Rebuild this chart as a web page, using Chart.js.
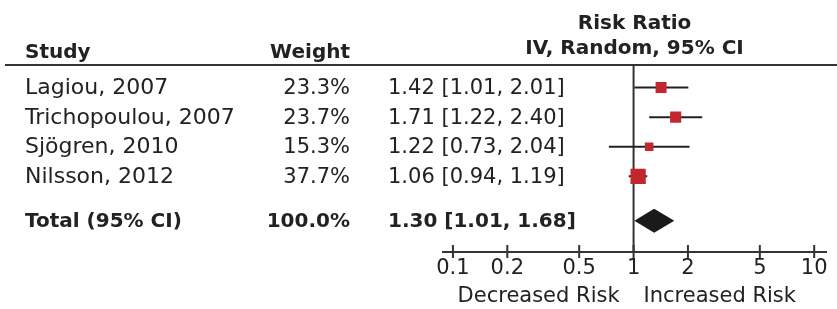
<!DOCTYPE html>
<html>
<head>
<meta charset="utf-8">
<script src="https://cdn.jsdelivr.net/npm/chart.js@4/dist/chart.umd.min.js"></script>
<style>
  html, body { margin: 0; padding: 0; background: #fff; }
  #wrap { width: 837px; height: 309px; position: relative; }
</style>
</head>
<body>
<div id="wrap"><canvas id="forest"></canvas></div>
<script>
// ===============================
// Data
// ===============================
const studies = ["Lagiou, 2007", "Trichopoulou, 2007", "Sjögren, 2010", "Nilsson, 2012"];
const weights = [23.3, 23.7, 15.3, 37.7];
const riskRatios = [1.42, 1.71, 1.22, 1.06];
const ciLower = [1.01, 1.22, 0.73, 0.94];
const ciUpper = [2.01, 2.40, 2.04, 1.19];

const totalLabel = "Total (95% CI)";
const totalWeight = 100.0;
const totalRatio = 1.30;
const totalLower = 1.01;
const totalUpper = 1.68;

const xTicks = [0.1, 0.2, 0.5, 1, 2, 5, 10];
const xTickLabels = ["0.1", "0.2", "0.5", "1", "2", "5", "10"];

// ===============================
// Look
// ===============================
const INK = "#222";
const RED = "#c1272d";
const FONT = "DejaVu Sans";

Chart.defaults.font.family = FONT;
Chart.defaults.color = INK;

const rowOf = i => i + 1;
const totalRow = studies.length + 1.5;
const fmt = v => v.toFixed(2);

// ===============================
// Table text, rules, ticks and the pooled diamond
// ===============================
const forestPlugin = {
  id: "forestPlugin",
  beforeDatasetsDraw(chart) {
    const { ctx, chartArea, scales: { x } } = chart;
    ctx.save();
    ctx.strokeStyle = "#333";

    // header rule
    ctx.lineWidth = 2;
    ctx.beginPath();
    ctx.moveTo(5, chartArea.top - 1);
    ctx.lineTo(chart.width, chartArea.top - 1);
    ctx.stroke();

    // line of no effect
    const x1 = x.getPixelForValue(1);
    ctx.lineWidth = 2;
    ctx.beginPath();
    ctx.moveTo(x1, chartArea.top);
    ctx.lineTo(x1, chartArea.bottom);
    ctx.stroke();
    ctx.restore();
  },
  afterDatasetsDraw(chart) {
    const { ctx, scales: { x, y } } = chart;
    const cy = y.getPixelForValue(totalRow);
    ctx.save();
    ctx.fillStyle = "#1a1a1a";
    ctx.beginPath();
    ctx.moveTo(x.getPixelForValue(totalLower), cy);
    ctx.lineTo(x.getPixelForValue(totalRatio), cy - 12);
    ctx.lineTo(x.getPixelForValue(totalUpper), cy);
    ctx.lineTo(x.getPixelForValue(totalRatio), cy + 12);
    ctx.closePath();
    ctx.fill();
    ctx.restore();
  },
  afterDraw(chart) {
    const { ctx, chartArea, scales: { x, y } } = chart;
    const mid = (chartArea.left + chartArea.right) / 2;
    ctx.save();
    ctx.fillStyle = INK;

    // headers
    ctx.font = `bold 20px "${FONT}"`;
    ctx.textBaseline = "alphabetic";
    ctx.textAlign = "center";
    ctx.fillText("Risk Ratio", mid, 29);
    ctx.fillText("IV, Random, 95% CI", mid, 54);
    ctx.textAlign = "left";
    ctx.fillText("Study", 25, 58);
    ctx.textAlign = "right";
    ctx.fillText("Weight", 350, 58);

    // study rows
    ctx.textBaseline = "middle";
    studies.forEach((s, i) => {
      const py = y.getPixelForValue(rowOf(i)) + 1;
      ctx.font = `22px "${FONT}"`;
      ctx.textAlign = "left";
      ctx.fillText(s, 25, py);
      ctx.font = `21px "${FONT}"`;
      ctx.textAlign = "right";
      ctx.fillText(weights[i].toFixed(1) + "%", 350, py);
      ctx.textAlign = "left";
      ctx.fillText(`${fmt(riskRatios[i])} [${fmt(ciLower[i])}, ${fmt(ciUpper[i])}]`, 388, py);
    });

    // total row
    const ty = y.getPixelForValue(totalRow) + 1;
    ctx.font = `bold 20px "${FONT}"`;
    ctx.textAlign = "left";
    ctx.fillText(totalLabel, 25, ty);
    ctx.textAlign = "right";
    ctx.fillText(totalWeight.toFixed(1) + "%", 350, ty);
    ctx.textAlign = "left";
    ctx.fillText(`${fmt(totalRatio)} [${fmt(totalLower)}, ${fmt(totalUpper)}]`, 388, ty);

    // tick marks crossing the axis
    ctx.strokeStyle = "#333";
    ctx.lineWidth = 2;
    x.ticks.forEach(t => {
      const px = x.getPixelForValue(t.value);
      ctx.beginPath();
      ctx.moveTo(px, chartArea.bottom - 7);
      ctx.lineTo(px, chartArea.bottom + 6);
      ctx.stroke();
    });

    // axis captions either side of 1
    const x1 = x.getPixelForValue(1);
    ctx.font = `21px "${FONT}"`;
    ctx.textBaseline = "alphabetic";
    ctx.textAlign = "right";
    ctx.fillText("Decreased Risk", x1 - 14, 302);
    ctx.textAlign = "left";
    ctx.fillText("Increased Risk", x1 + 10, 302);
    ctx.restore();
  }
};

// ===============================
// Chart
// ===============================
const ciSets = studies.map((s, i) => ({
  type: "line",
  label: s + " CI",
  data: [{ x: ciLower[i], y: rowOf(i) }, { x: ciUpper[i], y: rowOf(i) }],
  borderColor: INK,
  borderWidth: 2,
  pointRadius: 0,
  order: 1
}));

new Chart(document.getElementById("forest"), {
  type: "scatter",
  data: {
    datasets: [
      {
        label: "Risk Ratio",
        data: riskRatios.map((v, i) => ({ x: v, y: rowOf(i) })),
        pointStyle: "rect",
        pointRadius: weights.map(w => (4 + 0.3 * w) / Math.SQRT2),
        backgroundColor: RED,
        borderWidth: 0,
        order: 0
      },
      ...ciSets
    ]
  },
  options: {
    responsive: true,
    maintainAspectRatio: false,
    animation: false,
    events: [],
    layout: { padding: { left: 443, right: 10, top: 66, bottom: 0 } },
    plugins: { legend: { display: false }, tooltip: { enabled: false } },
    scales: {
      x: {
        type: "logarithmic",
        min: 0.0881,
        max: 11.65,
        afterBuildTicks: scale => {
          scale.ticks = xTicks.map(v => ({ value: v }));
        },
        afterFit: scale => {
          scale.height = 57;
        },
        grid: { display: false, drawTicks: false },
        border: { display: true, color: "#333", width: 2 },
        ticks: {
          padding: 4,
          maxRotation: 0,
          autoSkip: false,
          color: INK,
          font: { size: 21 },
          callback: (v, i) => xTickLabels[i]
        }
      },
      y: {
        display: false,
        reverse: true,
        min: 0.27,
        max: 6.56
      }
    }
  },
  plugins: [forestPlugin]
});
</script>
</body>
</html>
